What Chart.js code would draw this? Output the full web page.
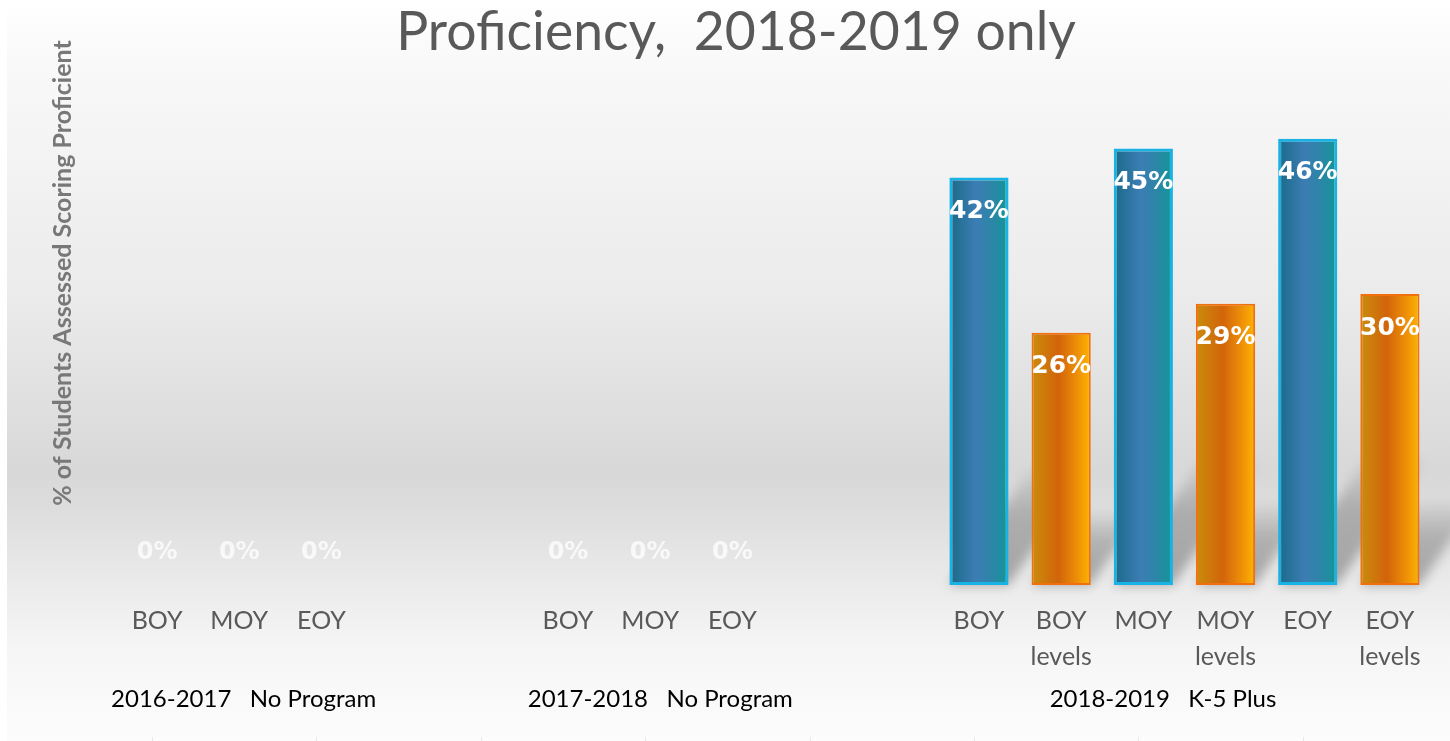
<!DOCTYPE html>
<html lang="en">
<head>
<meta charset="UTF-8">
<title>Proficiency, 2018-2019 only</title>
<style>
  html, body { margin: 0; padding: 0; background: #fff; }
  #wrap { width: 1450px; height: 741px; }
</style>
</head>
<body>
<div id="wrap"><canvas id="chart" width="1450" height="741"></canvas></div>
<script src="https://cdn.jsdelivr.net/npm/chart.js"></script>
<script>
// categories along the x axis (empty ones are the gaps between school years)
const categories = ['BOY', 'MOY', 'EOY', '', '',
                    'BOY', 'MOY', 'EOY', '', '',
                    'BOY', ['BOY', 'levels'], 'MOY', ['MOY', 'levels'], 'EOY', ['EOY', 'levels']];
// % of students scoring proficient
const proficient = [0, 0, 0, null, null,
                    0, 0, 0, null, null,
                    42, 26, 45, 29, 46, 30];
const groupLabels = ['2016-2017   No Program', '2017-2018   No Program', '2018-2019   K-5 Plus'];
const groupStart = [-0.56, 4.51, 10.86];   // category index where each label starts
const yMax = 50;

const BAR_PCT = 0.72;
const isLevels = i => Array.isArray(categories[i]);

function barFill(ctx) {
  const chart = ctx.chart;
  const xs = chart.scales.x;
  const lv = isLevels(ctx.dataIndex);
  const flat = lv ? '#e07a10' : '#2f7fb0';
  if (!xs || ctx.type !== 'data') return flat;
  const cx = xs.getPixelForValue(ctx.dataIndex);
  const w = xs.width / categories.length * BAR_PCT;
  if (!isFinite(cx) || !isFinite(w) || w <= 0) return flat;
  const g = chart.ctx.createLinearGradient(cx - w / 2, 0, cx + w / 2, 0);
  if (lv) {
    g.addColorStop(0, '#c98d0c');
    g.addColorStop(0.45, '#d2640a');
    g.addColorStop(0.75, '#ec8c08');
    g.addColorStop(1, '#ffb400');
  } else {
    g.addColorStop(0, '#1a6a88');
    g.addColorStop(0.45, '#3c7db4');
    g.addColorStop(0.75, '#2a87a6');
    g.addColorStop(1, '#0e9898');
  }
  return g;
}

const background = {
  id: 'background',
  beforeDraw(chart) {
    const { ctx, width, height } = chart;
    ctx.save();
    ctx.fillStyle = '#ffffff';
    ctx.fillRect(0, 0, width, height);
    const g = ctx.createLinearGradient(0, 0, 0, height);
    g.addColorStop(0, '#ffffff');
    g.addColorStop(0.08, '#f9f9f9');
    g.addColorStop(0.40, '#ebebeb');
    g.addColorStop(0.635, '#d8d8d8');
    g.addColorStop(0.68, '#dcdcdc');
    g.addColorStop(0.79, '#ebebeb');
    g.addColorStop(0.88, '#f6f6f6');
    g.addColorStop(1, '#fcfcfc');
    ctx.fillStyle = g;
    ctx.fillRect(7, 0, width - 7, height);
    ctx.restore();
  }
};

const barShadows = {
  id: 'barShadows',
  beforeDatasetsDraw(chart) {
    const { ctx } = chart;
    const meta = chart.getDatasetMeta(0);
    ctx.save();
    ctx.filter = 'blur(6px)';
    meta.data.forEach((bar, i) => {
      const v = proficient[i];
      if (!v || !isFinite(bar.y) || !isFinite(bar.base)) return;
      const left = bar.x - bar.width / 2, right = bar.x + bar.width / 2;
      const base = bar.base;
      const h = (base - bar.y) * 0.28;
      const dx = h * 0.7;
      const g = ctx.createLinearGradient(0, base, 0, base - h);
      g.addColorStop(0, 'rgba(0,0,0,0.30)');
      g.addColorStop(0.6, 'rgba(0,0,0,0.22)');
      g.addColorStop(1, 'rgba(0,0,0,0.04)');
      ctx.fillStyle = g;
      ctx.beginPath();
      ctx.moveTo(left, base);
      ctx.lineTo(right, base);
      ctx.lineTo(right + dx, base - h);
      ctx.lineTo(left + dx, base - h);
      ctx.closePath();
      ctx.fill();
    });
    ctx.restore();
  }
};

const valueLabels = {
  id: 'valueLabels',
  afterDatasetsDraw(chart) {
    const { ctx } = chart;
    const meta = chart.getDatasetMeta(0);
    ctx.save();
    ctx.textAlign = 'center';
    ctx.textBaseline = 'middle';
    meta.data.forEach((bar, i) => {
      const v = proficient[i];
      if (v === null) return;
      if (v > 0) {
        ctx.font = 'bold 25px "DejaVu Sans"';
        ctx.fillStyle = '#ffffff';
        ctx.fillText(v + '%', bar.x, bar.y + 34);
      } else {
        ctx.font = 'bold 24px "DejaVu Sans"';
        ctx.fillStyle = 'rgba(255,255,255,0.75)';
        ctx.fillText(v + '%', bar.x, bar.base - 32);
      }
    });
    ctx.restore();
  }
};

const extraText = {
  id: 'extraText',
  afterDraw(chart) {
    const { ctx } = chart;
    const xs = chart.scales.x;
    ctx.save();
    // y axis title
    ctx.translate(63, 273);
    ctx.rotate(-Math.PI / 2);
    ctx.font = 'bold 25px Lato';
    ctx.fillStyle = '#787878';
    ctx.textAlign = 'center';
    ctx.textBaseline = 'middle';
    ctx.fillText('% of Students Assessed Scoring Proficient', 0, 0);
    ctx.restore();

    ctx.save();
    ctx.font = '24px Lato';
    ctx.fillStyle = '#000000';
    ctx.textAlign = 'left';
    ctx.textBaseline = 'middle';
    groupLabels.forEach((t, k) => {
      ctx.fillText(t, xs.getPixelForValue(groupStart[k]), 699);
    });
    // faint tick marks along the bottom edge
    ctx.strokeStyle = 'rgba(0,0,0,0.08)';
    ctx.lineWidth = 1;
    for (let i = 0; i < categories.length; i += 2) {
      const x = Math.round(xs.getPixelForValue(i)) - 4.5;
      ctx.beginPath();
      ctx.moveTo(x, 737);
      ctx.lineTo(x, 741);
      ctx.stroke();
    }
    ctx.restore();
  }
};

new Chart(document.getElementById('chart'), {
  type: 'bar',
  data: {
    labels: categories,
    datasets: [{
      data: proficient,
      backgroundColor: barFill,
      borderColor: ctx => isLevels(ctx.dataIndex) ? '#f2700c' : '#18b2e4',
      borderWidth: ctx => proficient[ctx.dataIndex] ? (isLevels(ctx.dataIndex) ? 2 : 3) : 0,
      borderSkipped: false,
      barPercentage: BAR_PCT,
      categoryPercentage: 1
    }]
  },
  options: {
    responsive: false,
    animation: false,
    layout: { padding: { left: 41, right: 19, top: 0, bottom: 0 } },
    plugins: {
      legend: { display: false },
      tooltip: { enabled: false },
      title: {
        display: true,
        text: 'Proficiency,  2018-2019 only',
        color: '#595959',
        font: { family: 'Lato', size: 53.5, weight: 'normal' },
        padding: { top: 1, bottom: 34.8 }
      }
    },
    scales: {
      x: {
        grid: { display: false, drawTicks: false },
        border: { display: false },
        ticks: {
          color: '#595959',
          font: { family: 'Lato', size: 25, lineHeight: 1.44 },
          padding: 18,
          maxRotation: 0,
          autoSkip: false
        },
        afterFit: s => { s.height = 156; }
      },
      y: {
        min: 0,
        max: yMax,
        grid: { display: false },
        border: { display: false },
        ticks: { display: false },
        afterFit: s => { s.width = 75; }
      }
    }
  },
  plugins: [background, barShadows, valueLabels, extraText]
});
</script>
</body>
</html>
